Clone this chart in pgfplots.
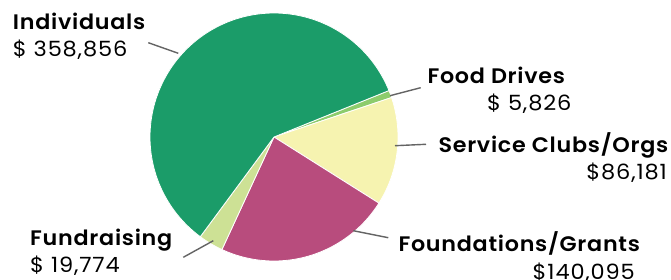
\documentclass[border=0pt]{standalone}
\usepackage{pgfplots}
\pgfplotsset{compat=1.18}
\usepackage{pgfplotstable}
\usepackage{fontspec}
\setmainfont{Poppins}[BoldFont={Poppins SemiBold}]
\definecolor{cInd}{HTML}{1B9C69}
\definecolor{cFood}{HTML}{8DCC6C}
\definecolor{cServ}{HTML}{F6F3B0}
\definecolor{cFound}{HTML}{B84C7D}
\definecolor{cFund}{HTML}{CDE195}
\definecolor{cLead}{HTML}{646464}
\pgfplotstableread{
name value
Food 5826
Service 86181
Foundations 140095
Fundraising 19774
Individuals 358856
}\piedata
\begin{document}%
\pgfplotstablegetelem{0}{value}\of\piedata\edef\vA{\pgfplotsretval}%
\pgfplotstablegetelem{1}{value}\of\piedata\edef\vB{\pgfplotsretval}%
\pgfplotstablegetelem{2}{value}\of\piedata\edef\vC{\pgfplotsretval}%
\pgfplotstablegetelem{3}{value}\of\piedata\edef\vD{\pgfplotsretval}%
\pgfplotstablegetelem{4}{value}\of\piedata\edef\vE{\pgfplotsretval}%
\edef\tot{\fpeval{\vA+\vB+\vC+\vD+\vE}}%
\edef\sA{22}%
\edef\sB{\fpeval{\sA-360*\vA/\tot}}%
\edef\sC{\fpeval{\sB-360*\vB/\tot}}%
\edef\sD{\fpeval{\sC-360*\vC/\tot}}%
\edef\sE{\fpeval{\sD-360*\vD/\tot}}%
\edef\sF{\fpeval{\sE-360*\vE/\tot}}%
\begin{tikzpicture}
\useasboundingbox (0,0) rectangle (671pt,279pt);
\clip (0,0) rectangle (671pt,279pt);
\begin{axis}[x=1pt,y=1pt,xmin=0,xmax=671,ymin=0,ymax=279,hide axis,clip=false,
  anchor=origin,at={(0,0)},axis line style={draw=none}]
\def\cx{274}\def\cy{142}\def\R{124}
\addplot[fill=cFood,draw=white,line width=0.8pt,domain=\sB:\sA,samples=10,variable=\t]
  ({\cx+\R*cos(\t)},{\cy+\R*sin(\t)}) -- (axis cs:\cx,\cy) -- cycle;
\addplot[fill=cServ,draw=white,line width=0.8pt,domain=\sC:\sB,samples=60,variable=\t]
  ({\cx+\R*cos(\t)},{\cy+\R*sin(\t)}) -- (axis cs:\cx,\cy) -- cycle;
\addplot[fill=cFound,draw=white,line width=0.8pt,domain=\sD:\sC,samples=80,variable=\t]
  ({\cx+\R*cos(\t)},{\cy+\R*sin(\t)}) -- (axis cs:\cx,\cy) -- cycle;
\addplot[fill=cFund,draw=white,line width=0.8pt,domain=\sE:\sD,samples=20,variable=\t]
  ({\cx+\R*cos(\t)},{\cy+\R*sin(\t)}) -- (axis cs:\cx,\cy) -- cycle;
\addplot[fill=cInd,draw=white,line width=0.8pt,domain=\sF:\sE,samples=150,variable=\t]
  ({\cx+\R*cos(\t)},{\cy+\R*sin(\t)}) -- (axis cs:\cx,\cy) -- cycle;
% leader lines
\draw[cLead,line width=1.4pt] (axis cs:148.3,236.3) -- (axis cs:178.3,225.7);
\draw[cLead,line width=1.4pt] (axis cs:390,183.3) -- (axis cs:420.7,191.3);
\draw[cLead,line width=1.4pt] (axis cs:395,133.3) -- (axis cs:426,134.7);
\draw[cLead,line width=1.4pt] (axis cs:353.3,48.3) -- (axis cs:388.3,41.3);
\draw[cLead,line width=1.4pt] (axis cs:213.3,38.3) -- (axis cs:183.3,21.7);
% labels
\tikzset{lb/.style={inner sep=0pt,font=\fontsize{21}{24}\selectfont\bfseries\addfontfeatures{LetterSpace=3.5,FakeStretch=1.06}},
         vl/.style={inner sep=0pt,font=\fontsize{21}{24}\selectfont\addfontfeatures{LetterSpace=4,FakeStretch=1.07}}}
\node[lb,anchor=base west] at (axis cs:12.7,249.7) {Individuals};
\node[vl,anchor=base west] at (axis cs:12.7,222.3) {\$ 358,856};
\node[lb,anchor=base west] at (axis cs:427.3,195.7) {Food Drives};
\node[vl,anchor=base east] at (axis cs:571.5,169) {\$ 5,826};
\node[lb,anchor=base west] at (axis cs:438.3,126.7) {Service Clubs/Orgs};
\node[vl,anchor=base east] at (axis cs:667,100) {\$86,181};
\node[lb,anchor=base west] at (axis cs:398.3,27.3) {Foundations/Grants};
\node[vl,anchor=base east] at (axis cs:635,0) {\$140,095};
\node[lb,anchor=base west] at (axis cs:30,34) {Fundraising};
\node[vl,anchor=base west] at (axis cs:30,6.3) {\$ 19,774};
\end{axis}
\end{tikzpicture}
\end{document}
